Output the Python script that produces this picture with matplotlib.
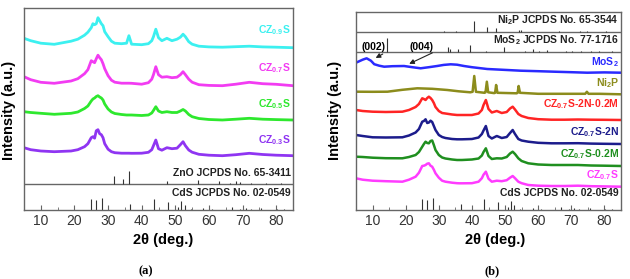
import matplotlib
matplotlib.use("Agg")
import matplotlib.pyplot as plt
from matplotlib.ticker import MultipleLocator

plt.rcParams['font.family'] = ['Liberation Sans', 'DejaVu Sans']
plt.rcParams['mathtext.fontset'] = 'custom'
plt.rcParams['mathtext.rm'] = 'Liberation Sans:bold'
plt.rcParams['mathtext.bf'] = 'Liberation Sans:bold'

# 2theta grid shared by the CdS/ZnS samples (deg.)
theta_cz = [5, 7, 10, 14, 19, 21, 23, 24, 25, 25.5, 26, 26.5, 27, 27.5, 28, 28.5, 29,
            30, 31, 32, 34, 35.5, 36.2, 37, 40, 42, 43, 43.5, 44.2, 45, 46,
            47.5, 49, 50.5, 51.5, 52.3, 53, 54, 55, 57, 60, 64, 68, 72, 76, 80, 85]

# panel (a) patterns (a.u., above own baseline)
cz09 = [9.4, 7, 4.5, 3.4, 6.5, 8.5, 12.5, 15.5, 20, 24, 23, 24, 30, 27, 24, 22, 16,
        11, 6.5, 4.5, 4, 4.5, 12, 3.5, 3, 4, 7, 11, 18.5, 10, 7,
        9.4, 7, 8.5, 10.5, 13.5, 11, 6, 3.5, 1.5, 0.8, 0.5, 1, 1.5, 0.8, 0.5, 0]
cz07 = [9, 6, 3.4, 2.4, 4.7, 7, 12, 16, 25, 24, 23, 27, 30.5, 28, 26, 22, 17,
        10, 5.5, 3.5, 2.5, 2.5, 2.5, 2.4, 1.5, 3, 6.5, 11, 19, 11, 8.5,
        9, 8, 8.5, 11, 14, 11, 6.5, 3.5, 1, 0.3, 0, 1.5, 3.4, 2, 1.4, 0]
cz05 = [8.3, 7.5, 6.7, 5.7, 6.7, 8, 11.5, 14, 19, 21, 22, 23.5, 24.3, 23, 22, 20, 16,
        11, 8, 6.5, 5.5, 5, 5, 5, 4.5, 5, 7, 9.5, 13.3, 9, 7.5,
        8.3, 7.5, 7.5, 9, 10.5, 9, 5.5, 3.3, 1.5, 0.5, 0, 0.8, 1.7, 0.8, 0.4, 0]
cz03 = [8, 6, 4.7, 4, 4.7, 6, 9, 12, 18, 19, 17.5, 25, 26, 22, 21, 18, 12,
        6.5, 4, 3, 2.5, 2.5, 2.5, 2.4, 2.5, 3.4, 6, 10, 15.7, 7, 5.5,
        8, 7, 7.5, 11, 14, 10, 5.7, 3.5, 1.4, 0.5, 0, 1, 2.4, 1.2, 0.5, 0]

# panel (b) patterns
cz07_2n_02m = [10, 9, 8.3, 8, 8.3, 10, 13, 16, 21.7, 21, 20, 22, 23.3, 22, 20, 17, 13,
               9, 7, 6.5, 5.5, 5, 5, 5, 5, 6.5, 10, 15, 20, 11, 7.5,
               9, 7, 8, 11.5, 13.3, 10.5, 6, 4, 2, 0.8, 0.3, 0.3, 0.5, 0.3, 0.2, 0]
cz07_2n = [9, 8, 6.7, 6.5, 6.7, 8.5, 11.5, 15, 22.3, 23, 24.7, 21, 21.5, 23.3, 22, 18, 14,
           9, 7, 6, 5, 4.7, 4.7, 4.7, 5, 6.5, 10, 13.5, 18, 8, 5.5,
           8, 6, 7, 11, 14, 10, 5, 3.5, 2.3, 1.2, 0.7, 0.7, 0.8, 0.4, 0.2, 0]
cz07_02m = [9.3, 9, 8.3, 7.8, 7.7, 9, 11, 14, 19.3, 22, 24.3, 23, 22.7, 25, 25.5, 21, 16,
            11, 8.5, 7.5, 6.5, 6, 6, 6, 6.5, 7.5, 10.5, 14, 17.7, 10, 7,
            7.7, 7.5, 9, 12.5, 14.3, 12, 7.7, 5, 2.7, 1.5, 1, 1, 1, 0.5, 0.3, 0]
cz07_b = [8.4, 7, 6, 5.5, 5, 7, 10, 14, 20.7, 21, 21.7, 23, 23.4, 21, 20, 17, 13.4,
          9, 6, 5, 4, 3.5, 3.4, 3.4, 3.5, 5, 8.5, 12, 15, 8, 5,
          6, 5.5, 6.5, 9, 10.7, 8.5, 5, 3.5, 1.7, 1, 0.7, 0.7, 1, 0.5, 0.3, 0]

theta_mos2 = [5, 6, 7, 8.2, 9.5, 10.5, 12, 13.5, 16, 19.5, 22, 24.5, 27, 29.5, 31.5,
              33.6, 35.5, 37.6, 40, 44.6, 50, 54.7, 60, 64.8, 70, 74.8, 80, 85]
mos2 = [10, 11.5, 13, 14.4, 12, 8.5, 7, 6, 6.5, 6.7, 5.5, 4.4, 5.5, 6.7, 7.8,
        8.4, 8, 6.7, 5.5, 3.7, 2.8, 2, 1.5, 1, 0.5, 0, 0.3, 0]

theta_ni2p = [5, 10, 14.5, 19, 23.5, 28, 32.6, 36, 39.5, 40.2, 40.7, 41.2,
              43.8, 44.1, 44.5, 44.9, 46.7, 47.0, 47.3, 47.7, 53.5, 53.8, 54.1, 54.5,
              60, 66, 74.2, 74.7, 75.2, 78.5, 85]
ni2p = [2.6, 2.5, 2.6, 4.5, 6, 5.5, 4.3, 3, 2, 2.5, 18.3, 2.5,
        1.5, 2, 12.6, 2, 1.2, 1.5, 9.3, 1.5, 1, 1.5, 8.3, 1.5,
        0.5, 0.5, 0.5, 2.5, 0.5, 0.5, 0]

# standard cards
cds_pos = [24.8, 26.5, 28.2, 36.6, 43.7, 47.8, 50.9, 51.8, 52.8, 54.6, 58.3, 60.8,
           66.8, 69.3, 70.9, 72.4, 75.5, 80.3, 82.3]
cds_int = [11, 10, 12.5, 6.5, 11, 8, 3, 9, 5, 1.5, 2, 1.5, 3, 1.5, 2, 1.5, 2, 1.5, 1]
zno_pos = [31.8, 34.4, 36.3, 47.5, 56.6, 62.9, 66.4, 67.9, 69.1, 72.6, 77.0, 81.4]
zno_int = [8, 5.5, 13, 3, 4, 3.5, 1, 3, 2, 1, 1, 1]
ni2p_pos = [31.7, 35.3, 40.7, 44.6, 47.3, 54.2, 54.9, 66.3, 72.7, 74.7, 80.4]
ni2p_int = [1, 0.7, 11, 5, 4, 2, 2, 1, 1, 1, 1]
mos2_pos = [14.4, 32.7, 33.5, 35.9, 39.5, 44.2, 49.8, 55.9, 58.3, 60.1, 62.8, 68.5,
            70.1, 72.8, 75.9, 78.4, 82.3]
mos2_int = [14, 5, 3, 3, 7, 1.5, 5, 1.5, 3, 1.5, 2, 1, 1.5, 1, 1.5, 1, 1]

labels_a = [r'CZ$_{0.9}$S', r'CZ$_{0.7}$S', r'CZ$_{0.5}$S', r'CZ$_{0.3}$S']
labels_b = [r'MoS$_{2}$', r'Ni$_{2}$P', r'CZ$_{0.7}$S-2N-0.2M', r'CZ$_{0.7}$S-2N',
            r'CZ$_{0.7}$S-0.2M', r'CZ$_{0.7}$S']

colors_a = ['#3cf0f0', '#f23cf2', '#2ee82e', '#8f35f2']
colors_b = ['#2a2aff', '#8c8c1c', '#ff2424', '#1c1c8c', '#1f8f1f', '#ff3cff']
offsets_a = [162.3, 124.3, 90, 54.3]
label_y_a = [180, 142.3, 106, 70]
offsets_b = [137.3, 115.7, 90, 66, 44, 23.3]
label_y_b = [148.3, 126.7, 105.7, 78.3, 56, 35]

stick_c = '#333333'
spine_c = '#666666'


def setup(ax, top):
    ax.set_xlim(5, 85)
    ax.set_ylim(0, top)
    ax.set_yticks([])
    ax.xaxis.set_major_locator(MultipleLocator(10))
    ax.xaxis.set_minor_locator(MultipleLocator(5))
    ax.tick_params(axis='x', which='major', direction='in', length=3.5,
                   labelsize=10, labelcolor='#333333', color=spine_c, pad=3)
    ax.tick_params(axis='x', which='minor', direction='in', length=2, color=spine_c)
    for s in ax.spines.values():
        s.set_color(spine_c)
        s.set_linewidth(1.0)


fig = plt.figure(figsize=(6.3, 2.79), dpi=100)
ax1 = fig.add_axes([24 / 630, 69 / 279, 269 / 630, 202 / 279])
ax2 = fig.add_axes([356 / 630, 69 / 279, 265 / 630, 198 / 279])
setup(ax1, 202)
setup(ax2, 198)

lab_kw = dict(ha='right', va='center', fontsize=7.5, fontweight='bold')

# ---- panel (a)
for ys, off, c, lab, ly in zip([cz09, cz07, cz05, cz03], offsets_a, colors_a, labels_a, label_y_a):
    ax1.plot(theta_cz, [v + off for v in ys], color=c, lw=2.0)
    ax1.text(84.4, ly, lab, color=c, **lab_kw)

ax1.axhline(26, color=spine_c, lw=1.0)
ax1.vlines(zno_pos, 26, [26 + h for h in zno_int], color=stick_c, lw=0.8)
ax1.vlines(cds_pos, 0, cds_int, color=stick_c, lw=0.8)
ax1.text(84.4, 37.3, 'ZnO JCPDS No. 65-3411', color='#222222', **lab_kw)
ax1.text(84.4, 16.7, 'CdS JCPDS No. 02-0549', color='#222222', **lab_kw)

# ---- panel (b)
curves_b = [(theta_mos2, mos2), (theta_ni2p, ni2p), (theta_cz, cz07_2n_02m),
            (theta_cz, cz07_2n), (theta_cz, cz07_02m), (theta_cz, cz07_b)]
for (xs, ys), off, c, lab, ly in zip(curves_b, offsets_b, colors_b, labels_b, label_y_b):
    ax2.plot(xs, [v + off for v in ys], color=c, lw=1.8)
    ax2.text(84.4, ly, lab, color=c, **lab_kw)

ax2.axhline(158, color=spine_c, lw=1.0)
ax2.axhline(178, color=spine_c, lw=1.0)
ax2.vlines(ni2p_pos, 178, [178 + h for h in ni2p_int], color=stick_c, lw=0.8)
ax2.vlines(mos2_pos, 158, [158 + h for h in mos2_int], color=stick_c, lw=0.8)
ax2.vlines(cds_pos, 0, cds_int, color=stick_c, lw=0.8)
ax2.text(84.4, 190, r'Ni$_{2}$P JCPDS No. 65-3544', color='#222222', **lab_kw)
ax2.text(84.4, 169.5, r'MoS$_{2}$ JCPDS No. 77-1716', color='#222222', **lab_kw)
ax2.text(84.4, 17, 'CdS JCPDS No. 02-0549', color='#222222', **lab_kw)

arr = dict(arrowstyle='-|>', color='#222222', lw=0.8, mutation_scale=7)
ax2.annotate('', xy=(10.2, 150.7), xytext=(13.8, 157.3), arrowprops=arr)
ax2.annotate('', xy=(20.3, 145), xytext=(28.8, 158.3), arrowprops=arr)
ax2.text(10.4, 163, '(002)', ha='center', va='center', fontsize=7.5, fontweight='bold')
ax2.text(24.9, 163, '(004)', ha='center', va='center', fontsize=7.5, fontweight='bold')

# axis titles
for x in (163, 495):
    fig.text(x / 630, 1 - 240 / 279, '2\u03b8 (deg.)', ha='center', va='center',
             fontsize=10.5, fontweight='bold')
for x in (9, 335):
    fig.text(x / 630, 1 - 110 / 279, 'Intensity (a.u.)', ha='center', va='center',
             rotation=90, fontsize=10.5, fontweight='bold')
fig.text(146 / 630, 1 - 271 / 279, '(a)', ha='center', va='center', fontsize=9,
         fontweight='bold', family='Liberation Serif')
fig.text(492 / 630, 1 - 271 / 279, '(b)', ha='center', va='center', fontsize=9,
         fontweight='bold', family='Liberation Serif')

fig.savefig('out.png', dpi=100)
